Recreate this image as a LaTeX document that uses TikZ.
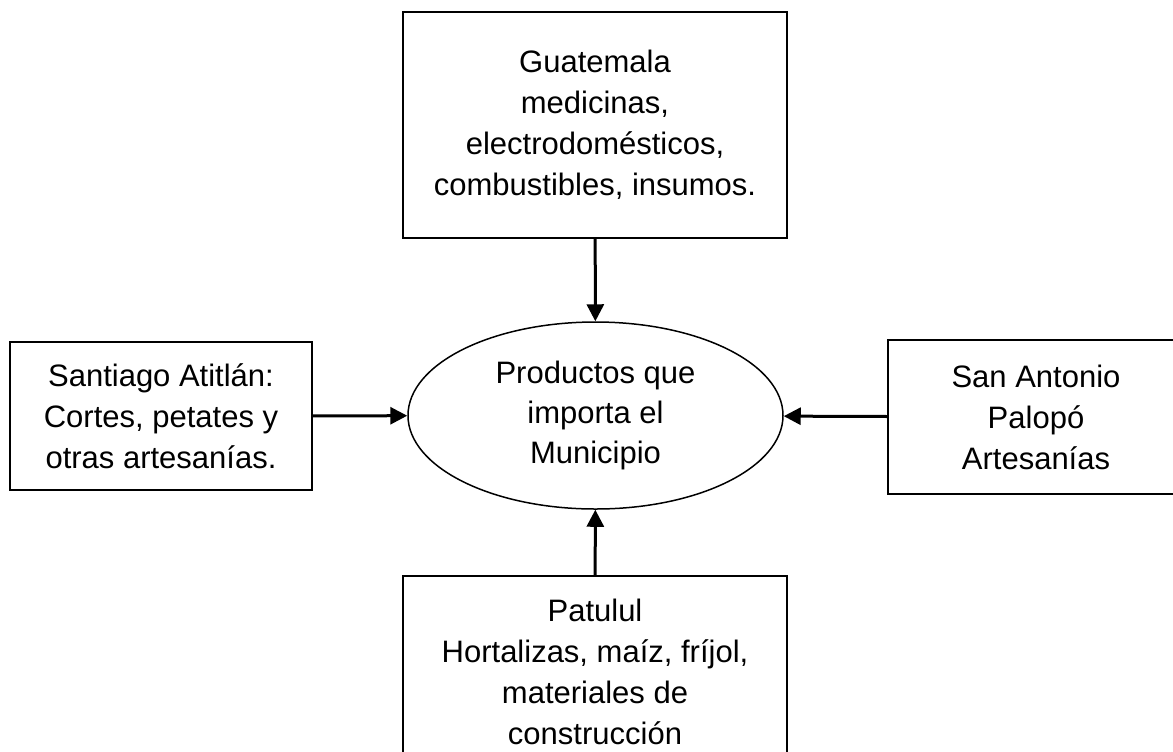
\documentclass[tikz,border=0pt]{standalone}
\usepackage{fontspec}
\setmainfont{Liberation Sans}
\usetikzlibrary{arrows.meta,shapes.geometric}
\begin{document}
\begin{tikzpicture}[x=0.5pt,y=-0.5pt,
  caja/.style={draw,line width=1pt,align=center,inner sep=0pt,
    font=\fontsize{15.5}{20.5}\selectfont},
  flecha/.style={line width=1.5pt,-{Triangle[length=8.5pt,width=8.5pt]}}]
  \useasboundingbox (0,0) rectangle (1173,751);
  \node[caja,minimum width=192pt,minimum height=113pt] (guate) at (595,125)
    {Guatemala\\medicinas,\\electrodomésticos,\\combustibles, insumos.};
  \node[caja,minimum width=151pt,minimum height=74pt] (santiago) at (161,416)
    {Santiago Atitlán:\\Cortes, petates y\\otras artesanías.};
  \node[caja,minimum width=148pt,minimum height=77pt] (palopo) at (1036,417)
    {San Antonio\\Palopó\\Artesanías};
  \node[caja,minimum width=192pt,minimum height=96pt] (patulul) at (595,672)
    {Patulul\\Hortalizas, maíz, fríjol,\\materiales de\\construcción};
  \node[caja,ellipse,line width=0.75pt,minimum width=187.5pt,minimum height=93.5pt,
    font=\fontsize{15.5}{20}\selectfont] (centro) at (595.5,415.5)
    {Productos que\\importa el\\Municipio};
  \draw[flecha] (guate) -- (centro);
  \draw[flecha] (santiago) -- (centro);
  \draw[flecha] (palopo) -- (centro);
  \draw[flecha] (patulul) -- (centro);
\end{tikzpicture}
\end{document}
